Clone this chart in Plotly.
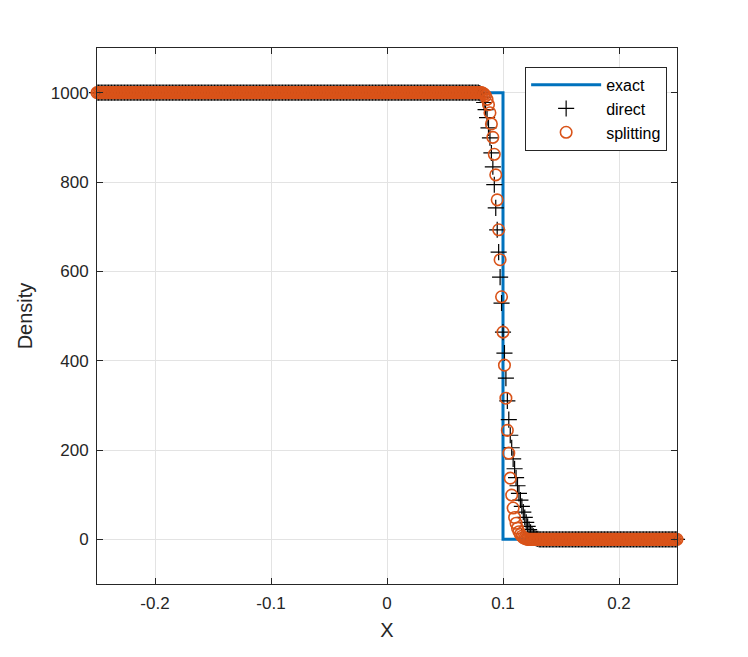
import numpy as np
import plotly.graph_objects as go

# grid (401 points from -0.25 to 0.25)
n_points = 401
x_grid = np.linspace(-0.25, 0.25, n_points)

# exact solution (step at x = 0.1)
x_exact = [-0.25, 0.1, 0.1, 0.25]
y_exact = [1000, 1000, 0, 0]

# direct scheme: flat 1000, transition, flat 0
direct_transition = [999, 997, 990, 978, 962, 944, 921, 899, 865, 834, 794, 742,
                     693, 643, 587, 529, 464, 417, 361, 310, 268, 233, 205, 180,
                     158, 138, 120, 103, 88, 74, 61, 49, 38, 29, 22, 16, 11, 7,
                     4, 2, 1]
direct_start = 264
direct_vals = ([1000.0] * direct_start + direct_transition +
               [0.0] * (n_points - direct_start - len(direct_transition)))

# splitting scheme
split_transition = [999, 997, 993, 985, 973, 955, 930, 900, 862, 816, 760, 693,
                    626, 543, 464, 390, 316, 244, 193, 137, 99, 70, 49, 36, 25,
                    17, 11, 7, 4, 2, 1]
split_start = 266
split_vals = ([1000.0] * split_start + split_transition +
              [0.0] * (n_points - split_start - len(split_transition)))

x_ticks = [-0.2, -0.1, 0, 0.1, 0.2]
y_ticks = [0, 200, 400, 600, 800, 1000]

FONT = "Liberation Sans, Arial, Helvetica, sans-serif"
AX = "#262626"

fig = go.Figure()
fig.add_trace(go.Scatter(x=x_exact, y=y_exact, mode="lines", name="exact",
                         line=dict(color="#0072BD", width=3)))
fig.add_trace(go.Scatter(x=x_grid, y=direct_vals, mode="markers", name="direct",
                         cliponaxis=False,
                         marker=dict(symbol="cross-thin", size=11.5,
                                     line=dict(color="black", width=1.2),
                                     color="black")))
fig.add_trace(go.Scatter(x=x_grid, y=split_vals, mode="markers", name="splitting",
                         cliponaxis=False,
                         marker=dict(symbol="circle-open", size=11.5,
                                     color="#D95319",
                                     line=dict(color="#D95319", width=1.6))))

axis_common = dict(showline=True, linecolor=AX, linewidth=1, mirror="allticks",
                   ticks="inside", ticklen=6, tickcolor=AX, tickwidth=1,
                   showgrid=True, gridcolor="#e3e3e3", gridwidth=1,
                   zeroline=False, ticklabelstandoff=4,
                   tickfont=dict(family=FONT, size=17, color=AX),
                   title_font=dict(family=FONT, size=20, color=AX))

fig.update_xaxes(range=[-0.25, 0.25], tickvals=x_ticks,
                 ticktext=["-0.2", "-0.1", "0", "0.1", "0.2"],
                 title_text="X", title_standoff=10, **axis_common)
fig.update_yaxes(range=[-100, 1100], tickvals=y_ticks,
                 title_text="Density", title_standoff=12, **axis_common)

fig.update_layout(
    width=748, height=657,
    margin=dict(l=97, r=71, t=48, b=73),
    paper_bgcolor="white", plot_bgcolor="white",
    showlegend=True,
    legend=dict(x=0.983, y=0.965, xanchor="right", yanchor="top",
                bgcolor="white", bordercolor=AX, borderwidth=1,
                font=dict(family=FONT, size=16, color="black"),
                tracegroupgap=0, itemwidth=70),
)

fig.write_html("out.html")
